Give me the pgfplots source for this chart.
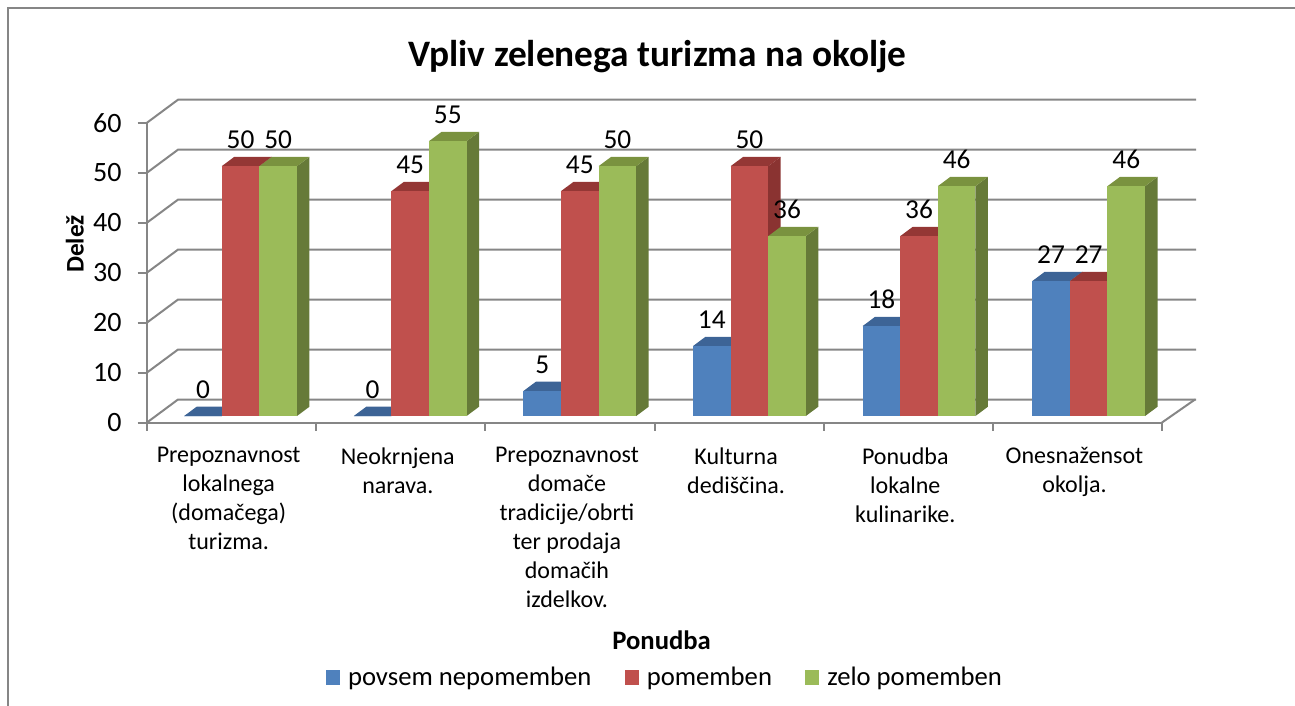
\documentclass[border=0pt]{standalone}
\usepackage{fontspec}
\setmainfont{Carlito}
\usepackage{pgfplots}
\pgfplotsset{compat=1.18}

\definecolor{wallgray}{HTML}{868686}
\definecolor{bluefront}{HTML}{4F81BD}
\definecolor{bluetop}{HTML}{3D6496}
\definecolor{blueside}{HTML}{355780}
\definecolor{redfront}{HTML}{C0504D}
\definecolor{redtop}{HTML}{943735}
\definecolor{redside}{HTML}{8A3331}
\definecolor{greenfront}{HTML}{9BBB59}
\definecolor{greentop}{HTML}{7A923F}
\definecolor{greenside}{HTML}{667A38}

% one 3D column: group, series (-1,0,1), value, colour prefix
\newcommand{\columnthreed}[4]{%
  \pgfmathsetmacro{\xc}{0.553+1.0027*#1+0.2223*#2}%
  \pgfmathsetmacro{\xl}{\xc-0.1112}%
  \pgfmathsetmacro{\xr}{\xc+0.1112}%
  \pgfmathsetmacro{\xrd}{\xr+0.0739}%
  \pgfmathsetmacro{\xld}{\xl+0.0739}%
  \pgfmathsetmacro{\ybase}{1.3}%
  \pgfmathsetmacro{\ybd}{3.16}%
  \pgfmathsetmacro{\yt}{#3+1.3}%
  \pgfmathsetmacro{\ytd}{#3+3.16}%
  \addplot[fill=#4side,draw=none,forget plot] coordinates {(\xr,\ybase) (\xrd,\ybd) (\xrd,\ytd) (\xr,\yt)} -- cycle;
  \addplot[fill=#4top,draw=none,forget plot] coordinates {(\xl,\yt) (\xr,\yt) (\xrd,\ytd) (\xld,\ytd)} -- cycle;
  \addplot[ybar,bar width=28.2pt,bar shift=0pt,yshift=4.875pt,fill=#4front,draw=none,forget plot,
    nodes near coords,point meta=explicit symbolic] coordinates {(\xc,#3) [#3]};
}

\begin{document}
\begin{tikzpicture}
\path[use as bounding box] (0,0) rectangle (971.25pt,-529.5pt);
\draw[wallgray,line width=1.4pt] (6.3pt,-540pt) -- (6.3pt,-6.3pt) -- (980pt,-6.3pt);
\begin{axis}[
  at={(110.25pt,-316.875pt)},
  anchor=origin,
  scale only axis,
  width=761.25pt,
  height=224.85pt,
  xmin=0, xmax=6,
  ymin=0, ymax=60,
  clip=false,
  axis x line=bottom,
  axis y line=left,
  axis line style={-,wallgray,line width=1.5pt},
  tick style={wallgray,line width=1.5pt},
  tick align=outside,
  major tick length=7pt,
  ytick={0,10,...,60},
  xtick={0.5,1.5,2.5,3.5,4.5,5.5},
  major x tick style={draw=none},
  minor xtick={0,1,...,6},
  minor tick length=6pt,
  xticklabels={
    {Prepoznavnost\\lokalnega\\(domačega)\\turizma.},
    {Neokrnjena\\narava.},
    {Prepoznavnost\\domače\\tradicije/obrti\\ter prodaja\\domačih\\izdelkov.},
    {Kulturna\\dediščina.},
    {Ponudba\\lokalne\\kulinarike.},
    {Onesnažensot\\okolja.}},
  xticklabel style={align=center,anchor=north,font=\fontsize{18}{21.75}\selectfont,xshift=-2.2pt,yshift=-8.25pt},
  yticklabel style={font=\fontsize{21}{25}\selectfont,xshift=-8.5pt},
  /pgf/number format/assume math mode=true,
  title={Vpliv zelenega turizma na okolje},
  title style={at={(axis description cs:0.503,1.193)},anchor=center,font=\fontsize{28}{32}\selectfont\bfseries},
  ylabel={Delež},
  ylabel style={at={(axis description cs:-0.071,0.595)},anchor=center,rotate=0,font=\fontsize{19}{22}\selectfont\bfseries},
  xlabel={Ponudba},
  xlabel style={at={(axis description cs:0.507,-0.725)},anchor=center,font=\fontsize{20}{24}\selectfont\bfseries},
  legend columns=3,
  legend style={at={(axis description cs:0.5107,-0.849)},anchor=center,draw=none,fill=none,
    font=\fontsize{20}{24}\selectfont,
    /tikz/every even column/.append style={column sep=23pt},
    /tikz/every odd column/.append style={column sep=4pt}},
  legend image code/.code={\fill[#1] (0cm,-5.6pt) rectangle (10.5pt,5.6pt);},
  every node near coord/.append style={font=\fontsize{20.5}{24}\selectfont,anchor=center,yshift=20pt},
]
\addlegendimage{fill=bluefront,draw=none}\addlegendentry{povsem nepomemben}
\addlegendimage{fill=redfront,draw=none}\addlegendentry{pomemben}
\addlegendimage{fill=greenfront,draw=none}\addlegendentry{zelo pomemben}

% back wall and floor
\pgfplotsinvokeforeach{0,10,...,60}{
  \draw[wallgray,line width=1.5pt] (axis cs:0,#1) -- ++(23.25pt,17.25pt) -- ++(763.5pt,0);
}
\draw[wallgray,line width=1.5pt] (axis cs:6,0) -- ++(24.75pt,17.25pt);

\columnthreed{0}{-1}{0}{blue}
\columnthreed{0}{0}{50}{red}
\columnthreed{0}{1}{50}{green}
\columnthreed{1}{-1}{0}{blue}
\columnthreed{1}{0}{45}{red}
\columnthreed{1}{1}{55}{green}
\columnthreed{2}{-1}{5}{blue}
\columnthreed{2}{0}{45}{red}
\columnthreed{2}{1}{50}{green}
\columnthreed{3}{-1}{14}{blue}
\columnthreed{3}{0}{50}{red}
\columnthreed{3}{1}{36}{green}
\columnthreed{4}{-1}{18}{blue}
\columnthreed{4}{0}{36}{red}
\columnthreed{4}{1}{46}{green}
\columnthreed{5}{-1}{27}{blue}
\columnthreed{5}{0}{27}{red}
\columnthreed{5}{1}{46}{green}
\end{axis}
\end{tikzpicture}
\end{document}
